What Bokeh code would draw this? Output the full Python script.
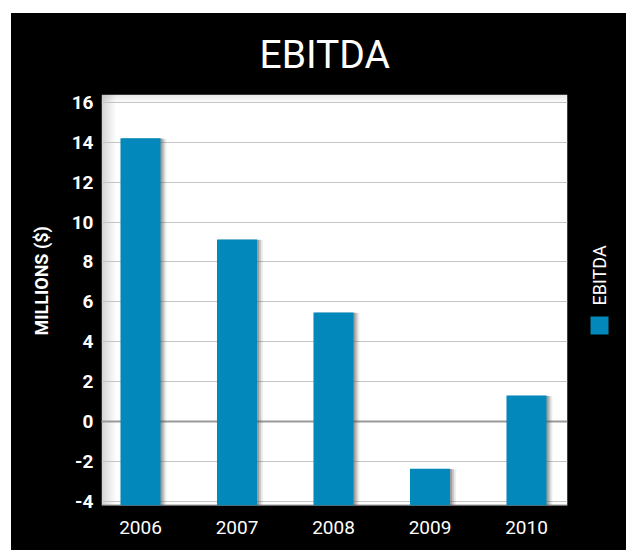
import math
from bokeh.plotting import figure
from bokeh.models import Range1d, FixedTicker, BoxAnnotation, Span, Title
from bokeh.core.properties import value
from bokeh.embed import file_html
from bokeh.resources import INLINE

years = ["2006", "2007", "2008", "2009", "2010"]
ebitda = [14.2, 9.13, 5.47, -2.37, 1.3]
y_ticks = [-4, -2, 0, 2, 4, 6, 8, 10, 12, 14, 16]
y_tick_labels = ["-4", "-2", "0", "2", "4", "6", "8", "10", "12", "14", "16"]
series_name = "EBITDA"
y_title = "MILLIONS ($)"
chart_title = "EBITDA"

BLUE = "#0288ba"
FONT = "Roboto"

xs = list(range(len(years)))
PXX = 96.5    # pixels per category
PXY = 19.94   # pixels per million
FRAME_W, FRAME_H = 525, 411
X0 = -39 / PXX
X1 = X0 + FRAME_W / PXX
X_PLOT_END = X0 + 466 / PXX
Y0 = -84 / PXY
Y1 = Y0 + FRAME_H / PXY


def fx(px):
    """x position (pixels from plot-area left) -> data units"""
    return X0 + px / PXX


def fy(px):
    """y position (pixels above the zero line) -> data units"""
    return px / PXY


p = figure(width=615, height=537, output_backend="svg", toolbar_location=None,
           x_range=Range1d(X0, X1), y_range=Range1d(Y0, Y1),
           min_border_left=90, min_border_right=0, min_border_top=81,
           min_border_bottom=45)
p.margin = (13, 0, 0, 11)
p.styles = {"background-color": "black"}
p.background_fill_color = "black"
p.border_fill_color = None
p.outline_line_color = None

p.title.text = chart_title
p.title.text_color = "white"
p.title.text_font = FONT
p.title.text_font_size = "39px"
p.title.text_font_style = "normal"
p.title.align = "left"
p.title.vertical_align = "middle"
p.title.offset = 158
p.title.standoff = 32

# y axis title as a left-side title (offset upward like the reference)
p.add_layout(Title(text=y_title, align="left", offset=170, standoff=34,
                   text_color="white", text_font=FONT, text_font_size="18px",
                   text_font_style="bold"), "left")

# white plot area
p.add_layout(BoxAnnotation(right=X_PLOT_END, fill_color="white", fill_alpha=1,
                           line_color=None, level="image"))
# inner shadow at left and top of plot area
for i in range(14):
    p.add_layout(BoxAnnotation(left=X0, right=X0 + (i + 1) / PXX, fill_color="#808080",
                               fill_alpha=0.025, line_color=None, level="image"))
for i in range(8):
    p.add_layout(BoxAnnotation(top=Y1, bottom=Y1 - (i + 1) / PXY, right=X_PLOT_END,
                               fill_color="#808080", fill_alpha=0.025, line_color=None,
                               level="image"))

# bottom edge line of the plot area
p.segment(x0=[X0], x1=[X_PLOT_END], y0=[Y0], y1=[Y0], line_color="#9a9a9a", line_width=2)

# bar shadows
for off, a in [(0.02, 0.35), (0.04, 0.25), (0.06, 0.12)]:
    p.vbar(x=[v + off for v in xs], top=[t - off * 0.5 for t in ebitda], bottom=Y0,
           width=0.415, fill_color="#555555", fill_alpha=a, line_color=None)

p.vbar(x=xs, top=ebitda, bottom=Y0, width=0.415, fill_color=BLUE, line_color=None)

p.add_layout(Span(location=0, dimension="width", line_color="#9a9a9a", line_width=2, level="underlay"))

# black legend panel on the right, covering the frame there
p.quad(left=[X_PLOT_END], right=[X1 + 1], bottom=[Y0 - 10], top=[Y1 + 10],
       fill_color="black", line_color=None)
p.quad(left=[fx(489)], right=[fx(507)], bottom=[fy(87)], top=[fy(105)],
       fill_color=BLUE, line_color=None)
p.text(x=[fx(497.5)], y=[fy(116)], text=[series_name],
       angle=math.pi / 2, text_color="white", text_font=value(FONT),
       text_font_size="18px", text_align="left", text_baseline="middle")

p.xgrid.grid_line_color = None
p.ygrid.grid_line_color = "#c4c4c4"
p.ygrid.grid_line_width = 1
p.yaxis.ticker = FixedTicker(ticks=y_ticks)
p.yaxis.major_label_overrides = dict(zip(y_ticks, y_tick_labels))
p.xaxis.ticker = FixedTicker(ticks=xs)
p.xaxis.major_label_overrides = {i: y for i, y in enumerate(years)}

for ax in (p.xaxis[0], p.yaxis[0]):
    ax.axis_line_color = None
    ax.major_tick_line_color = None
    ax.minor_tick_line_color = None
    ax.major_label_text_color = "white"
    ax.major_label_text_font = FONT

p.yaxis.major_label_text_font_size = "19px"
p.yaxis.major_label_text_font_style = "bold"
p.yaxis.major_label_standoff = 2

p.xaxis.major_label_text_font_size = "19px"
p.xaxis.major_label_standoff = 9

open("out.html", "w").write(file_html(p, INLINE))
